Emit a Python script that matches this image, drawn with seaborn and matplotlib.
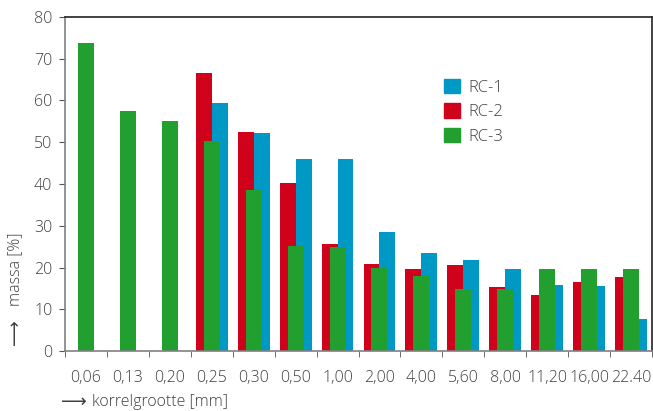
import numpy as np
import pandas as pd
import matplotlib
matplotlib.use('Agg')
import matplotlib.pyplot as plt
from matplotlib.patches import Patch
import seaborn as sns

plt.rcParams['font.family'] = ['Open Sans', 'DejaVu Sans']
plt.rcParams['font.weight'] = 'light'

sizes = ['0,06', '0,13', '0,20', '0,25', '0,30', '0,50', '1,00', '2,00',
         '4,00', '5,60', '8,00', '11,20', '16,00', '22.40']
rc1 = [np.nan, np.nan, np.nan, 59.4, 52.2, 46.0, 46.0, 28.5, 23.5, 21.8, 19.7, 15.8, 15.6, 7.7]
rc2 = [np.nan, np.nan, np.nan, 66.6, 52.5, 40.2, 25.6, 20.8, 19.7, 20.5, 15.3, 13.4, 16.5, 17.7]
rc3 = [73.7, 57.4, 55.2, 50.3, 38.6, 25.1, 25.0, 20.0, 18.0, 14.8, 14.8, 19.6, 19.6, 19.6]

c_blue = '#0099c6'
c_red = '#d0021b'
c_green = '#21a030'
txt = '#404040'

pos = np.arange(len(sizes))
df = pd.DataFrame({'pos': pos, 'RC-1': rc1, 'RC-2': rc2, 'RC-3': rc3})

fig = plt.figure(figsize=(6.53, 4.11), dpi=100)
ax = fig.add_axes([65/653, 60/411, 587/653, 334/411])

# red left, blue right, green in front in the middle
shift = 0.19
sns.barplot(x=df['pos'] - shift, y=df['RC-2'], native_scale=True, width=0.38,
            color=c_red, saturation=1, ax=ax, linewidth=0)
sns.barplot(x=df['pos'] + shift, y=df['RC-1'], native_scale=True, width=0.38,
            color=c_blue, saturation=1, ax=ax, linewidth=0)
sns.barplot(x=df['pos'], y=df['RC-3'], native_scale=True, width=0.38,
            color=c_green, saturation=1, ax=ax, linewidth=0)

ax.set_xlim(-0.5, len(sizes) - 0.5)
ax.set_ylim(0, 80)
ax.set_yticks(range(0, 81, 10))
ax.set_xticks(pos)
ax.set_xticklabels(sizes)
ax.set_xticks(np.arange(len(sizes) + 1) - 0.5, minor=True)
ax.tick_params(axis='x', which='major', length=0, pad=14, labelsize=11.5, labelcolor=txt)
ax.tick_params(axis='x', which='minor', length=4, direction='out', color='#555555')
ax.tick_params(axis='y', length=4, direction='out', color='#555555', labelsize=11.5,
               labelcolor=txt, pad=5)
ax.set_xlabel('')
ax.set_ylabel('')

ax.spines['left'].set_color('#808080')
ax.spines['bottom'].set_color('#808080')
ax.spines['top'].set_color('#222222')
ax.spines['right'].set_color('#222222')
for s in ax.spines.values():
    s.set_linewidth(1.2)

handles = [Patch(color=c_blue, label='RC-1'),
           Patch(color=c_red, label='RC-2'),
           Patch(color=c_green, label='RC-3')]
leg = ax.legend(handles=handles, loc='upper left', bbox_to_anchor=(0.62, 0.86),
                frameon=False, fontsize=12, handlelength=0.95, handleheight=0.95,
                handletextpad=0.5, labelspacing=0.45)
for t in leg.get_texts():
    t.set_color(txt)

# axis titles with long arrows (arrow glyph only in DejaVu Sans regular)
arrow_font = dict(family=['DejaVu Sans'], weight='normal', color=txt, fontsize=13)
fig.text(15/653, 1 - 345/411, '\u27f6', rotation=90, ha='center', va='bottom', **arrow_font)
fig.text(15/653, 1 - 306/411, 'massa [%]', rotation=90, ha='center',
         va='bottom', fontsize=11.5, color=txt)
fig.text(61/653, 1 - 402/411, '\u27f6', ha='left', va='center', **arrow_font)
fig.text(92/653, 1 - 402/411, 'korrelgrootte [mm]', ha='left',
         va='center', fontsize=11.5, color=txt)

fig.savefig('out.png', dpi=100)
